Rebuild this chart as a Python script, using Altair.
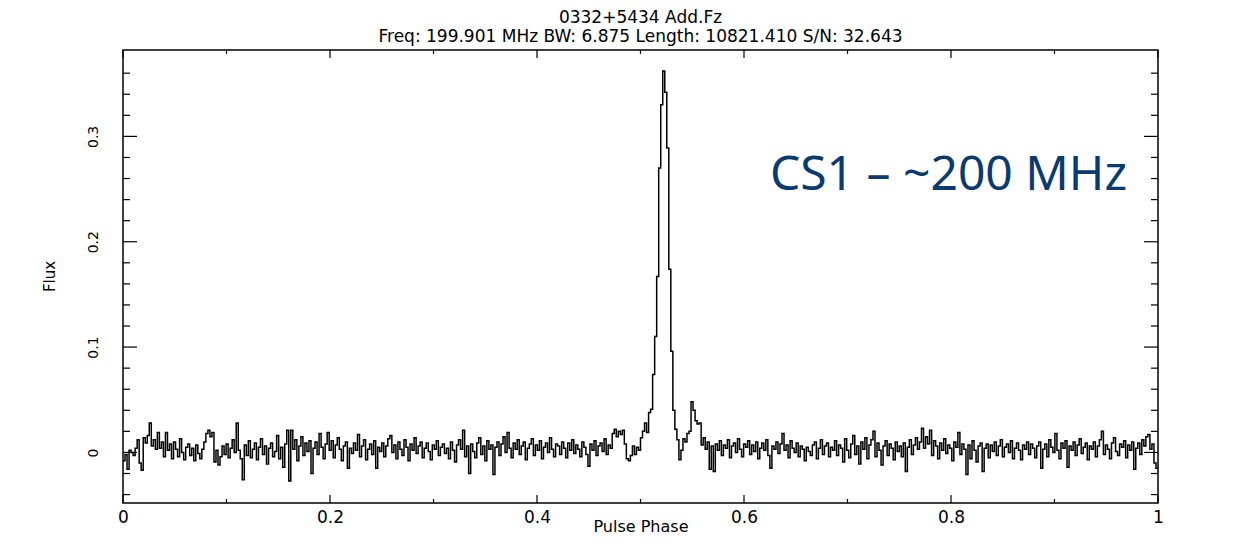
import altair as alt
import pandas as pd

# ---- data (flux in units of 0.001, one value per phase bin) ----
n_bins = 512
flux_milli = [
    -8, -2, -16, 2, 0, -3, 4, 12, -10, -17, 14, 9, 16, 28, 6, 12, 3, 19, 4, 10, -4, 19, 2, 8, -6, 10, 3, -4, 13, 0, -7, 5,
    8, -3, 4, -8, 7, -1, -6, 3, 10, 18, 21, 15, 19, -9, 2, -12, -4, 6, -2, 8, -5, 4, 12, 0, 28, 2, -6, -26, 7, -3, 11, -5,
    3, 9, -7, 5, 13, -2, 6, -11, 4, 9, -4, 1, 16, -6, 5, -14, 8, 21, -27, 21, 3, 12, -8, 6, 15, -3, 9, 1, 11, -20, 4, 10,
    -2, 18, 5, -6, 8, 19, 2, 11, -5, 7, 14, 3, -8, 6, 10, -15, 4, -1, 9, 2, 17, -4, 6, 12, -7, 3, 8, -2, 11, -15, 5, 1,
    9, -4, 6, 13, 16, 0, 7, -6, 10, 3, -3, 12, 5, -8, 8, 2, 14, -1, 6, 10, -5, 4, 9, 1, -7, 7, 3, 11, -3, 5, 8, -1,
    4, -6, 10, 2, -9, 7, 12, 3, 21, -4, 6, -20, 8, 1, -5, 9, 14, -2, 6, -8, 11, 3, 7, -21, 5, 10, -3, 8, 15, 0, 19, 4,
    -5, 9, 3, 12, -2, 6, 10, -7, 4, 8, 13, -3, 7, 2, 11, -6, 5, 9, 0, 14, 3, -4, 8, 6, -2, 10, 4, -5, 9, 2, 12, -1,
    7, 3, -4, 10, 5, -2, -13, 8, 2, 11, -3, 6, 9, 1, 13, -2, 7, 4, 18, 22, 15, 20, 17, 21, 8, -6, -8, -3, 6, -2, 5, 2,
    14, 20, 28, 19, 38, 41, 74, 110, 167, 270, 330, 362, 342, 289, 174, 96, 40, 22, 12, -7, 2, 13, 10, 18, 20, 48, 40, 30, 27, 28, 7, 14,
    3, 10, -16, 6, -18, 8, 2, 11, -3, 7, 4, 12, -5, 6, 9, 0, 13, 3, -4, 8, 5, 11, -2, 7, 1, 10, -6, 4, 9, 2, 12, -3,
    -15, 6, 3, 10, -1, 8, 18, 2, 7, -5, 11, 4, 0, 9, -4, 6, 3, -8, 5, 1, -3, 7, 10, -6, 4, 12, -2, 6, 9, -4, 5, 2,
    11, -3, 7, 4, -9, 13, 2, -5, 8, 16, -2, 6, -11, 10, 3, 14, -6, 7, 12, 20, -4, 9, 2, -12, 6, 11, -3, 8, 4, -7, 10, 1,
    6, -4, 9, -18, 5, 12, -2, 7, 14, 3, 10, 23, 4, 15, 8, 21, -3, 11, 6, -6, 9, 2, 13, -1, 7, 4, -8, 10, 5, 19, -2, 8,
    3, -21, 7, -6, 11, 2, -9, 6, 9, -18, 4, 8, -5, 7, 1, 10, -3, 6, 12, -4, 5, 8, 0, 11, -6, 4, 9, 2, -7, 7, 3, 10,
    -2, 8, 4, -5, 6, 10, -15, 3, 8, -4, 12, 5, 0, 18, 2, -6, 9, 4, 11, -14, 6, 2, 10, -3, 7, 13, -1, 5, 9, -7, 6, 3,
    10, -4, 6, 12, 20, -2, 7, 3, -6, 9, 14, 1, -3, 8, 5, 11, -5, 7, 2, 10, -16, 4, 9, -2, 12, 6, 15, 17, 3, 8, -10, -15,
]

title_lines = ["0332+5434 Add.Fz",
               "Freq: 199.901 MHz BW: 6.875 Length: 10821.410 S/N: 32.643"]
x_title = "Pulse Phase"
y_title = "Flux"
x_major = [0, 0.2, 0.4, 0.6, 0.8, 1.0]
x_minor = [0.1, 0.3, 0.5, 0.7, 0.9]
y_major = [0, 0.1, 0.2, 0.3]
y_minor = [-0.04, -0.02, 0.02, 0.04, 0.06, 0.08, 0.12, 0.14, 0.16, 0.18,
           0.22, 0.24, 0.26, 0.28, 0.32, 0.34, 0.36]
note_text = ["CS1 \u2013 ~200 MHz"]
note_phase = [0.625]
note_flux = [0.2495]

# ---- build tables ----
flux = [v / 1000 for v in flux_milli]
phase = [i / n_bins for i in range(n_bins)] + [1.0]
df = pd.DataFrame({"phase": phase, "flux": flux + [flux[-1]]})
xmaj = pd.DataFrame({"phase": x_major})
xmin = pd.DataFrame({"phase": x_minor})
ymaj = pd.DataFrame({"flux": y_major})
ymin = pd.DataFrame({"flux": y_minor})
note = pd.DataFrame({"phase": note_phase, "flux": note_flux, "t": note_text})
head1 = pd.DataFrame({"t": [title_lines[0]]})
head2 = pd.DataFrame({"t": [title_lines[1]]})

W, H = 1035, 453
FONT = "DejaVu Sans"
xs = alt.Scale(domain=[0, 1], nice=False, zero=False)
ys = alt.Scale(domain=[-0.048, 0.382], nice=False, zero=False)

x_axis = alt.Axis(values=x_major, format="~g", ticks=False, domain=False, grid=False,
                  labelFont=FONT, labelFontSize=17, labelColor="black", labelPadding=19,
                  labelBaseline="alphabetic", labelFlush=False, labelOverlap=False,
                  title=x_title, titleFont=FONT, titleFontSize=16, titleFontWeight="normal",
                  titleColor="black", titleY=28, titleBaseline="alphabetic")
y_axis = alt.Axis(values=y_major, format="~g", ticks=False, domain=False, grid=False,
                  labelFont=FONT, labelFontSize=14, labelColor="black", labelPadding=26,
                  labelAngle=270, labelAlign="center", labelBaseline="alphabetic",
                  labelFlush=False, labelOverlap=False,
                  title=y_title, titleFont=FONT, titleFontSize=15, titleFontWeight="normal",
                  titleColor="black", titleAngle=270, titleX=-69, titleY=226,
                  titleAlign="center", titleBaseline="alphabetic")

line = alt.Chart(df).mark_line(interpolate="step-after", color="black",
                               strokeWidth=1.5, clip=True).encode(
    x=alt.X("phase:Q", scale=xs, axis=x_axis),
    y=alt.Y("flux:Q", scale=ys, axis=y_axis),
)

def xticks(data, length):
    base = alt.Chart(data).mark_rule(color="black", strokeWidth=1.2)
    bottom = base.encode(x=alt.X("phase:Q", scale=xs), y=alt.value(H - length), y2=alt.value(H))
    top = base.encode(x=alt.X("phase:Q", scale=xs), y=alt.value(0), y2=alt.value(length))
    return [bottom, top]

def yticks(data, length):
    base = alt.Chart(data).mark_rule(color="black", strokeWidth=1.2)
    left = base.encode(y=alt.Y("flux:Q", scale=ys), x=alt.value(0), x2=alt.value(length))
    right = base.encode(y=alt.Y("flux:Q", scale=ys), x=alt.value(W - length), x2=alt.value(W))
    return [left, right]

text = alt.Chart(note).mark_text(font="Noto Sans", fontSize=48, color="#0b3a6e",
                                 align="left", baseline="alphabetic").encode(
    x=alt.X("phase:Q", scale=xs), y=alt.Y("flux:Q", scale=ys), text="t:N")

hdr1 = alt.Chart(head1).mark_text(font=FONT, fontSize=17, color="black",
                                  align="center", baseline="alphabetic").encode(
    x=alt.value(W / 2), y=alt.value(-27), text="t:N")
hdr2 = alt.Chart(head2).mark_text(font=FONT, fontSize=17, color="black",
                                  align="center", baseline="alphabetic").encode(
    x=alt.value(W / 2), y=alt.value(-8), text="t:N")

layers = ([line] + xticks(xmaj, 8) + xticks(xmin, 4) + yticks(ymaj, 14) + yticks(ymin, 7)
          + [text, hdr1, hdr2])

chart = alt.layer(*layers).properties(
    width=W, height=H,
    autosize=alt.AutoSizeParams(type="none"),
    padding={"left": 115, "top": 42, "right": 78, "bottom": 33},
    background="white",
).configure_view(stroke="black", strokeWidth=1.5)

chart.save("out.html", embed_options={"renderer": "svg", "actions": False})
